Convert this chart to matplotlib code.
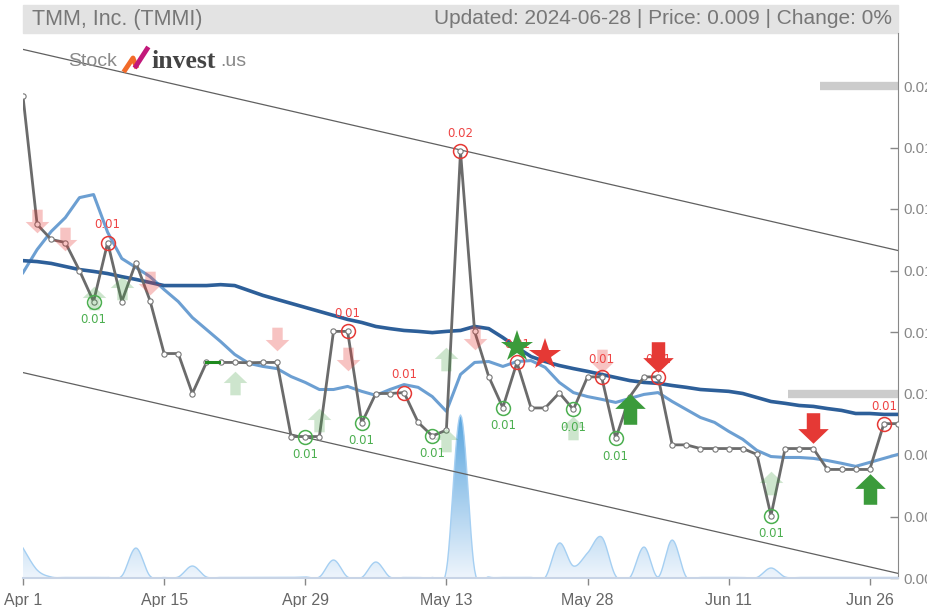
import numpy as np
import matplotlib.pyplot as plt
from matplotlib.path import Path
from matplotlib.patches import Rectangle
from matplotlib.colors import LinearSegmentedColormap

# ---- data (trading-day index 0 = Apr 1, 62 = Jun 28) ----
tick_idx = [0, 10, 20, 30, 40, 50, 60]
tick_labels = ["Apr 1", "Apr 15", "Apr 29", "May 13", "May 28", "Jun 11", "Jun 26"]
y_ticks = [0.004, 0.006, 0.008, 0.010, 0.012, 0.014, 0.016, 0.018, 0.020]

price = [0.01966, 0.01550, 0.01501, 0.01491, 0.01400, 0.01299, 0.01491, 0.01299,
         0.01426, 0.01302, 0.01130, 0.01130, 0.01000, 0.01101, 0.01101, 0.01101,
         0.01100, 0.01101, 0.01101, 0.00860, 0.00860, 0.00860, 0.01202, 0.01202,
         0.00904, 0.01000, 0.01000, 0.01003, 0.00906, 0.00862, 0.00881, 0.01787,
         0.01202, 0.01055, 0.00954, 0.01101, 0.00953, 0.00953, 0.01002, 0.00948,
         0.01054, 0.01054, 0.00854, 0.00990, 0.01054, 0.01054, 0.00833, 0.00833,
         0.00821, 0.00821, 0.00821, 0.00821, 0.00802, 0.00603, 0.00821, 0.00821,
         0.00821, 0.00753, 0.00753, 0.00753, 0.00753, 0.00902, 0.00902]

ma_long = [0.01432, 0.01429, 0.01423, 0.01413, 0.01403, 0.01397, 0.01390, 0.01380,
           0.01371, 0.01361, 0.01351, 0.01351, 0.01351, 0.01351, 0.01354, 0.01351,
           0.01335, 0.01319, 0.01306, 0.01293, 0.01280, 0.01267, 0.01254, 0.01241,
           0.01231, 0.01218, 0.01211, 0.01205, 0.01202, 0.01198, 0.01202, 0.01205,
           0.01218, 0.01211, 0.01182, 0.01150, 0.01120, 0.01104, 0.01091, 0.01081,
           0.01072, 0.01062, 0.01052, 0.01042, 0.01036, 0.01033, 0.01026, 0.01020,
           0.01013, 0.01010, 0.01007, 0.01000, 0.00987, 0.00974, 0.00968, 0.00961,
           0.00958, 0.00951, 0.00945, 0.00935, 0.00935, 0.00932, 0.00932]

ma_short = [0.01393, 0.01468, 0.01527, 0.01572, 0.01637, 0.01647, 0.01524, 0.01439,
            0.01410, 0.01380, 0.01338, 0.01299, 0.01247, 0.01208, 0.01169, 0.01127,
            0.01098, 0.01088, 0.01081, 0.01055, 0.01036, 0.01013, 0.01013, 0.01023,
            0.01007, 0.00994, 0.01013, 0.01029, 0.01020, 0.00990, 0.00942, 0.01062,
            0.01101, 0.01104, 0.01088, 0.01104, 0.01107, 0.01085, 0.01036, 0.01003,
            0.00990, 0.00981, 0.00971, 0.00984, 0.00997, 0.01003, 0.00974, 0.00948,
            0.00922, 0.00906, 0.00877, 0.00851, 0.00815, 0.00795, 0.00792, 0.00792,
            0.00789, 0.00782, 0.00773, 0.00763, 0.00776, 0.00789, 0.00802]

# volume in thousands of shares
volume = [300, 80, 10, 5, 5, 5, 5, 20, 300, 20, 5, 10, 120, 10, 5, 5,
          5, 5, 5, 5, 10, 10, 180, 10, 5, 160, 10, 5, 5, 5, 80, 1630,
          80, 10, 5, 5, 5, 5, 350, 120, 250, 410, 20, 5, 310, 10, 380, 10,
          5, 5, 5, 5, 5, 100, 10, 5, 5, 5, 5, 5, 5, 5, 5]

# trend channel (start/end values)
chan_upper = [0.02119, 0.01465]
chan_lower = [0.01068, 0.00415]

# support / resistance levels (value, start index)
levels = [(0.020, 56.5), (0.010, 54.2)]

# signals
top_idx = [6, 23, 27, 31, 35, 41, 45, 61]
top_lbl = ["0.01", "0.01", "0.01", "0.02", "0.01", "0.01", "0.01", "0.01"]
bot_idx = [5, 20, 24, 29, 34, 39, 42, 53]
bot_lbl = ["0.01"] * 8

weak_sell = [(1, 0.01560), (3, 0.01503), (9, 0.01360), (18, 0.01176),
             (23, 0.01111), (32, 0.01181), (41, 0.01105)]
weak_buy = [(5, 0.01311), (7, 0.01344), (15, 0.01035), (21, 0.00915),
            (30, 0.01111), (30, 0.00850), (39, 0.00888), (53, 0.00710)]
strong_buy = [(43, 0.00948), (60, 0.00688)]
strong_sell = [(45, 0.01120), (56, 0.00889)]
star_buy = [(35, 0.01150)]
star_sell = [(37, 0.01124)]

RED = "#e53935"
GREEN = "#3b9b3b"
SANS = ["Liberation Sans", "DejaVu Sans"]


def smooth(xs, ys, n=12):
    # catmull-rom through the points, just for drawing
    xs = np.asarray(xs, float)
    ys = np.asarray(ys, float)
    px = np.concatenate([[xs[0]], xs, [xs[-1]]])
    py = np.concatenate([[ys[0]], ys, [ys[-1]]])
    ox, oy = [], []
    t = np.linspace(0, 1, n, endpoint=False)
    for i in range(1, len(px) - 2):
        for a, out in ((px, ox), (py, oy)):
            p0, p1, p2, p3 = a[i - 1], a[i], a[i + 1], a[i + 2]
            out.extend(0.5 * (2 * p1 + (-p0 + p2) * t
                              + (2 * p0 - 5 * p1 + 4 * p2 - p3) * t ** 2
                              + (-p0 + 3 * p1 - 3 * p2 + p3) * t ** 3))
    ox.append(xs[-1])
    oy.append(ys[-1])
    return np.array(ox), np.array(oy)


up_arrow = Path([(-0.22, -0.5), (0.22, -0.5), (0.22, 0.02), (0.5, 0.02),
                 (0, 0.5), (-0.5, 0.02), (-0.22, 0.02), (-0.22, -0.5)],
                [Path.MOVETO] + [Path.LINETO] * 6 + [Path.CLOSEPOLY])
down_arrow = Path([(x, -y) for x, y in up_arrow.vertices], up_arrow.codes)

W, H = 928, 607
plt.rcParams['font.family'] = SANS
fig = plt.figure(figsize=(W / 100, H / 100), dpi=100)

x0, x1, ytop, ybot = 23, 898, 33, 578
ax = fig.add_axes([x0 / W, 1 - ybot / H, (x1 - x0) / W, (ybot - ytop) / H])
axv = ax.twinx()
ax.set_zorder(2)
ax.patch.set_visible(False)

n = len(price)
idx = np.arange(n)

# volume area, gradient light at the bottom, blue at the top
vx, vy = smooth(idx, volume)
poly = axv.fill_between(vx, vy, 0, color="none")
grad = np.linspace(0, 1, 256).reshape(-1, 1)
cmap = LinearSegmentedColormap.from_list("v", ["#eef5fc", "#58a4de"])
im = axv.imshow(grad, cmap=cmap, aspect="auto", extent=[0, 62, 0, 1630],
                origin="lower", zorder=1)
im.set_clip_path(poly.get_paths()[0], transform=axv.transData)
axv.plot(vx, vy, color="#a5cff2", lw=1.0)
axv.set_ylim(0, 1630 * (ybot - ytop) / 163)
axv.set_xlim(0, 62)
axv.axis("off")

# channel
ax.plot([0, 62], chan_upper, color="#606060", lw=0.9, zorder=2)
ax.plot([0, 62], chan_lower, color="#606060", lw=0.9, zorder=2)

# levels
for val, start in levels:
    ax.plot([start, 62], [val, val], color="#cccccc", lw=6, solid_capstyle="butt", zorder=2)

# moving averages
ax.plot(idx, ma_short, color="#6c9fd2", lw=2.2, zorder=3)
ax.plot(idx, ma_long, color="#2d5f99", lw=2.6, zorder=3)

# price
ax.plot(idx, price, color="#6b6b6b", lw=2.0, zorder=4,
        marker="o", ms=3.8, mfc="white", mec="#777777", mew=0.8)
ax.plot([13, 13.9], [price[13], price[14]], color="#1e8a1e", lw=2.2, zorder=4)

# weak signals
for i, v in weak_sell:
    ax.plot(i, v, marker=down_arrow, ms=17, color=RED, alpha=0.3, mew=0, zorder=5)
for i, v in weak_buy:
    ax.plot(i, v, marker=up_arrow, ms=17, color=GREEN, alpha=0.25, mew=0, zorder=5)

# tops / bottoms
for i, lb in zip(top_idx, top_lbl):
    ax.plot(i, price[i], marker="o", ms=10, mfc="none", mec=RED, mew=1.1, zorder=6)
    ax.annotate(lb, (i, price[i]), xytext=(0, 8), textcoords="offset points",
                ha="center", va="bottom", color="#ee4444", fontsize=8.5,
                family="DejaVu Sans", zorder=7)
for i, lb in zip(bot_idx, bot_lbl):
    ax.plot(i, price[i], marker="o", ms=10, mfc="none", mec="#4caf50", mew=1.1, zorder=6)
    ax.annotate(lb, (i, price[i]), xytext=(0, -8), textcoords="offset points",
                ha="center", va="top", color="#4caf50", fontsize=8.5,
                family="DejaVu Sans", zorder=7)

# strong signals
for i, v in strong_buy:
    ax.plot(i, v, marker=up_arrow, ms=22, color=GREEN, mew=0, zorder=8)
for i, v in strong_sell:
    ax.plot(i, v, marker=down_arrow, ms=22, color=RED, mew=0, zorder=8)
for i, v in star_buy:
    ax.plot(i, v, marker="*", ms=24, color=GREEN, mew=0, zorder=8)
for i, v in star_sell:
    ax.plot(i, v, marker="*", ms=24, color=RED, mew=0, zorder=8)

# axes
ax.set_xlim(0, 62)
ax.set_ylim(0.004, 0.004 + (ybot - ytop) / 61.5 * 0.002)
ax.set_xticks(tick_idx)
ax.set_xticklabels(tick_labels)
ax.yaxis.tick_right()
ax.set_yticks(y_ticks)
ax.set_yticklabels(["%.3f" % t for t in y_ticks])
ax.tick_params(axis="x", colors="#888888", labelcolor="#666666", labelsize=11.5,
               length=5, width=1, pad=6)
ax.tick_params(axis="y", direction="in", colors="#888888", labelcolor="#888888",
               labelsize=11, length=6, width=1, pad=4)
for s in ["top", "left"]:
    ax.spines[s].set_visible(False)
ax.spines["right"].set_color("#888888")
ax.spines["bottom"].set_color("#c8d4e6")
ax.spines["bottom"].set_linewidth(1.5)

# header
fig.patches.append(Rectangle((x0 / W, 1 - 33 / H), (x1 - x0) / W, 28 / H,
                             transform=fig.transFigure, color="#e3e3e3", zorder=0))
fig.text(32 / W, 1 - 19 / H, "TMM, Inc. (TMMI)", fontsize=15.5, color="#777777",
         va="center", ha="left")
fig.text(892 / W, 1 - 19 / H, "Updated: 2024-06-28 | Price: 0.009 | Change: 0%",
         fontsize=15, color="#777777", va="center", ha="right")

# logo
fig.text(68 / W, 1 - 62 / H, "Stock", fontsize=14, color="#8a8a8a", va="center")
fig.lines.append(plt.Line2D([125 / W, 133 / W, 136 / W], [1 - 70 / H, 1 - 58 / H, 1 - 66 / H],
                            transform=fig.transFigure, color="#f26b2a", lw=3.5))
fig.lines.append(plt.Line2D([136 / W, 147 / W], [1 - 66 / H, 1 - 49 / H],
                            transform=fig.transFigure, color="#c2187a", lw=3.5))
fig.text(151 / W, 1 - 61 / H, "invest", fontsize=18.5, color="#444444", va="center",
         fontweight="bold", family=["Liberation Serif", "DejaVu Serif"])
fig.text(220 / W, 1 - 62 / H, ".us", fontsize=14, color="#888888", va="center")

fig.savefig("out.png", dpi=100)
